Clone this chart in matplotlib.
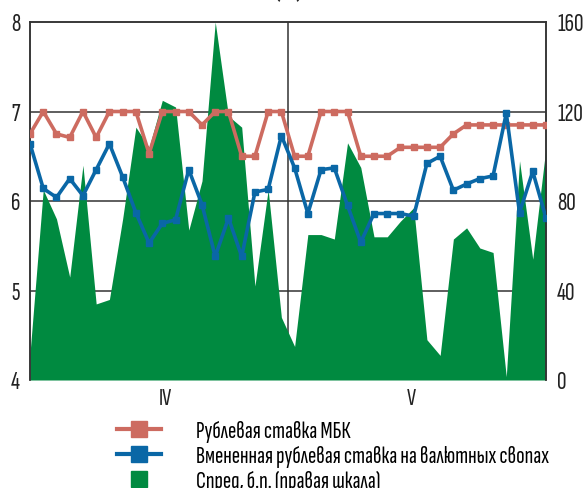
import matplotlib
matplotlib.use("Agg")
import matplotlib.pyplot as plt
from matplotlib.lines import Line2D

plt.rcParams['font.family'] = ['Sofia Sans Extra Condensed', 'Fira Sans Extra Condensed',
                               'Roboto Condensed', 'DejaVu Sans']

# daily observations, April-May
days = list(range(40))
month_labels = ["IV", "V"]
month_pos = [10.2, 28.8]

mbk_rate = [6.75, 7.0, 6.75, 6.71, 7.0, 6.71, 7.0, 7.0, 7.0, 6.53,
            7.0, 7.0, 7.0, 6.85, 7.0, 7.0, 6.5, 6.5, 7.0, 7.0,
            6.5, 6.5, 7.0, 7.0, 7.0, 6.5, 6.5, 6.5, 6.6, 6.6,
            6.6, 6.6, 6.75, 6.85, 6.85, 6.85, 6.85, 6.85, 6.85, 6.85]

swap_rate = [6.64, 6.14, 6.04, 6.25, 6.06, 6.35, 6.64, 6.27, 5.87, 5.53,
             5.75, 5.79, 6.35, 5.96, 5.38, 5.81, 5.38, 6.10, 6.13, 6.73,
             6.37, 5.86, 6.35, 6.37, 5.95, 5.54, 5.86, 5.86, 5.86, 5.83,
             6.42, 6.50, 6.12, 6.19, 6.25, 6.28, 6.98, 5.87, 6.33, 5.81]

spread_bp = [12, 85, 72, 46, 96, 34, 36, 72, 113, 104,
             125, 122, 67, 89, 160, 118, 113, 42, 85, 28,
             15, 65, 65, 63, 106, 95, 64, 64, 71, 77,
             18, 11, 63, 68, 59, 57, 1.5, 98, 54, 104]

labels = ["Рублевая ставка МБК",
          "Вмененная рублевая ставка на валютных свопах",
          "Спред, б.п. (правая шкала)"]

red = "#CD6B60"
blue = "#0A67A6"
green = "#008A40"
dark = "#333333"

fig = plt.figure(figsize=(5.83, 4.88), dpi=100)
ax = fig.add_axes([0.0515, 0.2213, 0.885, 0.7336])
ax2 = ax.twinx()
ax.set_zorder(ax2.get_zorder() + 1)
ax.patch.set_visible(False)

# spread area on the right scale, grid under it
for v in [40, 80, 120]:
    ax2.axhline(v, color=dark, lw=1.1, zorder=0)
ax2.axvline(19.5, color=dark, lw=1.1, zorder=0)
ax2.fill_between(days, 0, spread_bp, color=green, lw=0, zorder=1)
ax2.set_ylim(0, 160)
ax2.set_yticks([0, 40, 80, 120, 160])

ax.plot(days, mbk_rate, color=red, lw=2.6, marker="s", ms=5, zorder=3)
ax.plot(days, swap_rate, color=blue, lw=2.6, marker="s", ms=5, zorder=4)
ax.set_ylim(4, 8)
ax.set_xlim(0, 39)
ax.set_yticks([4, 5, 6, 7, 8])
ax.set_xticks(month_pos)
ax.set_xticklabels(month_labels)

for a in (ax, ax2):
    a.tick_params(length=0, labelsize=19, colors="#222222")
    for s in a.spines.values():
        s.set_color(dark)
        s.set_linewidth(1.1)
    a.spines["bottom"].set_visible(False)
ax.tick_params(axis="y", pad=7)
ax2.tick_params(axis="y", pad=8)
ax.tick_params(axis="x", pad=6, labelsize=18)

fig.text(0.494, 1 - 3 / 488, "(%)", ha="center", va="bottom", fontsize=19,
         color="#222222")

handles = [Line2D([], [], color=red, lw=3, marker="s", ms=11),
           Line2D([], [], color=blue, lw=3, marker="s", ms=11),
           Line2D([], [], color=green, lw=0, marker="s", ms=11)]
fig.legend(handles, labels, loc="upper left", bbox_to_anchor=(0.2, 0.139),
           frameon=False, fontsize=18, handlelength=1.76, handletextpad=1.4,
           labelspacing=0.1, borderpad=0, borderaxespad=0)

fig.savefig("out.png", dpi=100)
